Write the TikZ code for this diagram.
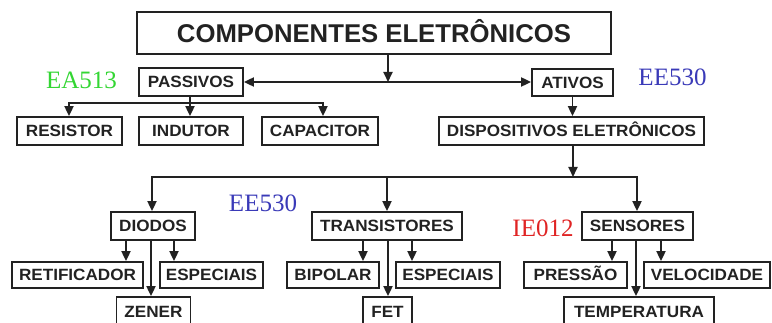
\documentclass[tikz,border=0pt]{standalone}
\usepackage{fontspec}
\setmainfont{Liberation Sans}
\newfontfamily\boxfont{Liberation Sans}[FakeStretch=1.05]
\newfontfamily\labfont{Liberation Serif}
\usetikzlibrary{arrows.meta}
\definecolor{ln}{HTML}{222222}
\definecolor{lgreen}{HTML}{33D633}
\definecolor{lblue}{HTML}{3A3AB8}
\definecolor{lred}{HTML}{E02424}
\tikzset{
  bx/.style={draw=ln, line width=1.8pt, inner sep=0pt, minimum height=28pt,
    font=\boxfont\bfseries\fontsize{16.3}{18}\selectfont, text=ln,
    text height=11.6pt, text depth=0pt},
  conn/.style={draw=ln, line width=1.9pt},
  arr/.style={conn, -{Triangle[length=10pt,width=9pt]}},
  lab/.style={font=\labfont\fontsize{25}{28}\selectfont, inner sep=0pt}
}
\begin{document}
\begin{tikzpicture}[x=1pt,y=-1pt]
\path[use as bounding box] (0,0) rectangle (772,323);
\clip (0,0) rectangle (772,323);
\fill[white] (0,0) rectangle (772,323);
% boxes
\node[bx, minimum width=474pt, minimum height=42pt, font=\bfseries\fontsize{25.7}{28}\selectfont, text height=18.3pt] (title) at (374,33) {COMPONENTES ELETRÔNICOS};
\node[bx, minimum width=104pt] (passivos) at (191,82) {PASSIVOS};
\node[bx, minimum width=81pt, minimum height=27pt] (ativos) at (572.5,82.5) {ATIVOS};
\node[bx, minimum width=105pt] (resistor) at (69.5,131) {RESISTOR};
\node[bx, minimum width=104pt] (indutor) at (191,131) {INDUTOR};
\node[bx, minimum width=116pt] (capacitor) at (320,131) {CAPACITOR};
\node[bx, minimum width=265pt] (disp) at (571.5,131) {DISPOSITIVOS ELETRÔNICOS};
\node[bx, minimum width=84pt] (diodos) at (153,226) {DIODOS};
\node[bx, minimum width=150pt] (trans) at (387,226) {TRANSISTORES};
\node[bx, minimum width=111pt] (sensores) at (637.5,226) {SENSORES};
\node[bx, minimum width=131pt, minimum height=26pt] (retif) at (77.5,275) {RETIFICADOR};
\node[bx, minimum width=103pt, minimum height=26pt] (espd) at (211.5,275) {ESPECIAIS};
\node[bx, minimum width=92pt, minimum height=26pt] (bipolar) at (333,275) {BIPOLAR};
\node[bx, minimum width=104pt, minimum height=26pt] (espt) at (448,275) {ESPECIAIS};
\node[bx, minimum width=103pt, minimum height=26pt] (pressao) at (575.5,275) {PRESSÃO};
\node[bx, minimum width=126pt, minimum height=26pt] (veloc) at (707,275) {VELOCIDADE};
\node[bx, minimum width=74pt, minimum height=30pt] (zener) at (153.5,312) {ZENER};
\node[bx, minimum width=49pt, minimum height=30pt] (fet) at (387.5,312) {FET};
\node[bx, minimum width=150pt, minimum height=30pt] (temp) at (639,312) {TEMPERATURA};
% labels
\node[lab, text=lgreen] (ea513) at (81.5,80) {EA513};
\node[lab, text=lblue] (ee530a) at (672.5,77) {EE530};
\node[lab, text=lblue] (ee530b) at (263,203) {EE530};
\node[lab, text=lred] (ie012) at (543,228) {IE012};
% junctions
\coordinate (jt) at (388,82);
\coordinate (jp) at (190,103);
\coordinate (jd) at (573,177);
% top level
\draw[arr] (title.south -| jt) -- (jt);
\draw[arr] (jt) -- (jt -| passivos.east);
\draw[arr] (jt) -- (jt -| ativos.west);
% passivos
\draw[conn] (passivos.south -| jp) -- (jp);
\draw[arr] (jp) -| ([xshift=-0.5pt]resistor.north);
\draw[arr] (jp) -| ([xshift=3pt]capacitor.north);
\draw[arr] (jp) -- (jp |- indutor.north);
% ativos
\draw[arr] (ativos.south) -- (ativos.south |- disp.north);
\draw[arr] (disp.south -| jd) -- (jd);
\draw[arr] (jd) -| ([xshift=-1pt]diodos.north);
\draw[arr] (jd) -| ([xshift=-0.5pt]sensores.north);
\draw[arr] (jd -| trans.north) -- (trans.north);
% diodos
\draw[arr] ([xshift=-27pt]diodos.south) -- ([xshift=-27pt]diodos.south |- retif.north);
\draw[arr] ([xshift=21pt]diodos.south) -- ([xshift=21pt]diodos.south |- espd.north);
\draw[arr] ([xshift=-2pt]diodos.south) -- ([xshift=-2pt]diodos.south |- zener.north);
% transistores
\draw[arr] ([xshift=-24pt]trans.south) -- ([xshift=-24pt]trans.south |- bipolar.north);
\draw[arr] ([xshift=25pt]trans.south) -- ([xshift=25pt]trans.south |- espt.north);
\draw[arr] ([xshift=1pt]trans.south) -- ([xshift=1pt]trans.south |- fet.north);
% sensores
\draw[arr] ([xshift=-25.5pt]sensores.south) -- ([xshift=-25.5pt]sensores.south |- pressao.north);
\draw[arr] ([xshift=23.5pt]sensores.south) -- ([xshift=23.5pt]sensores.south |- veloc.north);
\draw[arr] ([xshift=-1.5pt]sensores.south) -- ([xshift=-1.5pt]sensores.south |- temp.north);
\end{tikzpicture}
\end{document}
